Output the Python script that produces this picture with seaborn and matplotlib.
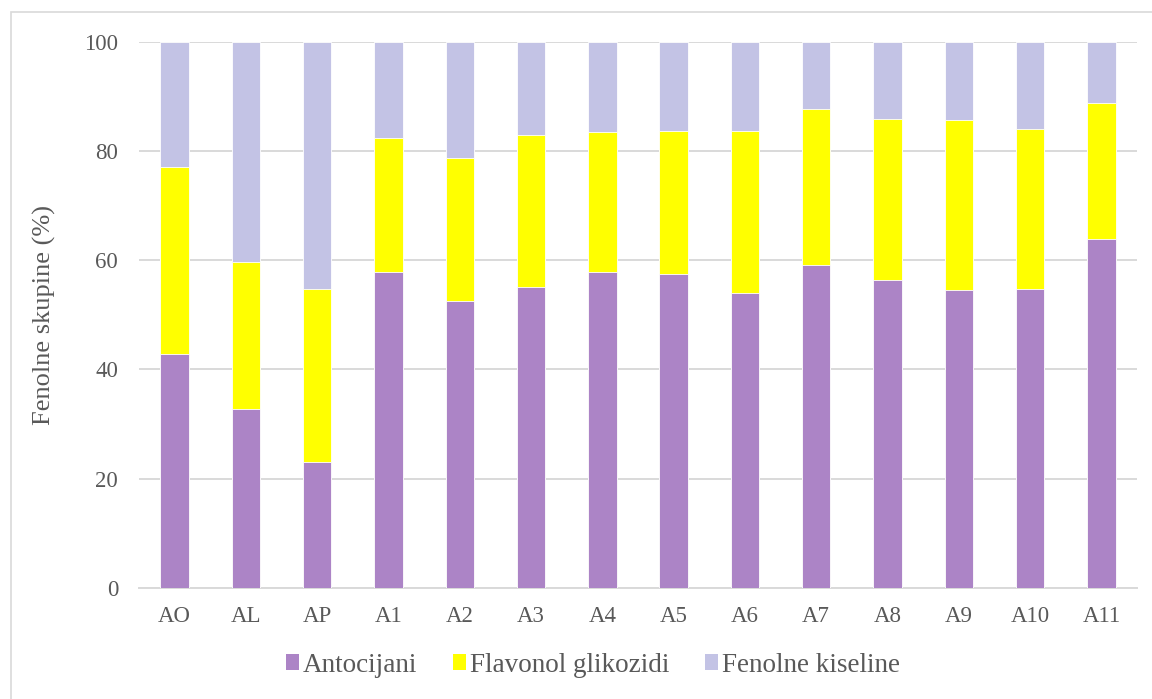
import numpy as np
import pandas as pd
import matplotlib
matplotlib.use("Agg")
import matplotlib.pyplot as plt
import seaborn as sns
from matplotlib.patches import Patch, Rectangle

uzorci = ["AO", "AL", "AP", "A1", "A2", "A3", "A4", "A5", "A6", "A7", "A8", "A9", "A10", "A11"]
antocijani = [42.8, 32.8, 23.0, 57.9, 52.5, 55.1, 57.9, 57.4, 54.0, 59.1, 56.3, 54.6, 54.8, 63.9]
flavonol_glikozidi = [34.2, 26.8, 31.8, 24.4, 26.1, 27.8, 25.5, 26.2, 29.6, 28.6, 29.6, 31.1, 29.1, 24.9]
fenolne_kiseline = [23.0, 40.4, 45.2, 17.7, 21.4, 17.1, 16.6, 16.4, 16.4, 12.3, 14.1, 14.3, 16.1, 11.2]

serije = ["Antocijani", "Flavonol glikozidi", "Fenolne kiseline"]
boje = ["#AC84C6", "#FFFF00", "#C3C3E5"]
SIVA = "#595959"

df = pd.DataFrame({
    "uzorak": uzorci,
    "Antocijani": antocijani,
    "Flavonol glikozidi": flavonol_glikozidi,
    "Fenolne kiseline": fenolne_kiseline,
})
# cumulative heights, drawn from the top segment down so they overlap
kum = df[serije].cumsum(axis=1)

sns.set_style("white")
plt.rcParams["font.family"] = ["Liberation Serif", "DejaVu Serif"]

fig = plt.figure(figsize=(11.52, 6.99), dpi=100)
ax = fig.add_axes([139 / 1152, 1 - 588 / 699, 998 / 1152, 546.5 / 699])

for s, c in zip(serije[::-1], boje[::-1]):
    sns.barplot(x=df["uzorak"], y=kum[s], color=c, width=0.4, ax=ax,
                saturation=1, edgecolor="white", linewidth=0.6, zorder=3)

ax.set_ylim(0, 100)
ax.set_xlim(-0.5, len(uzorci) - 0.5)
ax.set_yticks(np.arange(0, 101, 20))
ax.yaxis.grid(True, color="#d9d9d9", linewidth=1.4, zorder=0)
ax.set_axisbelow(True)
for sp in ["top", "right", "left"]:
    ax.spines[sp].set_visible(False)
ax.spines["bottom"].set_color("#d9d9d9")
ax.spines["bottom"].set_linewidth(1.4)
ax.tick_params(axis="both", length=0, labelsize=16.5, labelcolor=SIVA)
ax.tick_params(axis="y", pad=15)
ax.tick_params(axis="x", pad=13)
ax.set_xlabel("")
ax.set_ylabel("Fenolne skupine (%)", fontsize=19, color=SIVA, labelpad=20)

handles = [Patch(facecolor=c, edgecolor="none", label=s) for s, c in zip(serije, boje)]
fig.legend(handles=handles, loc="center", bbox_to_anchor=(593 / 1152, 1 - 665 / 699),
           ncol=3, frameon=False, fontsize=19.5, labelcolor=SIVA,
           handlelength=0.5, handleheight=0.5, handletextpad=0.15, columnspacing=1.3)

# chart area border like the original
fig.patches.append(Rectangle((11 / 1152, -0.1), 1.2, 1 - 12 / 699 + 0.1,
                             transform=fig.transFigure, fill=False,
                             edgecolor="#d9d9d9", linewidth=1.2))

fig.savefig("out.png", dpi=100)
